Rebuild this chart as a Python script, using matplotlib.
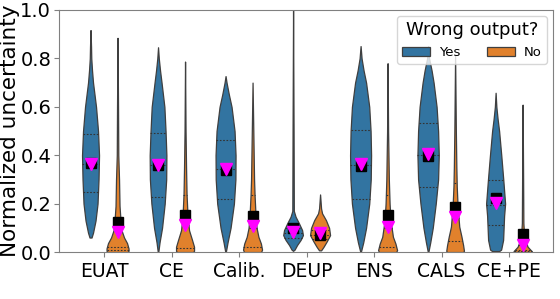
import numpy as np
import matplotlib.pyplot as plt
from matplotlib.patches import Patch

categories = ["EUAT", "CE", "Calib.", "DEUP", "ENS", "CALS", "CE+PE"]
groups = ["Yes", "No"]

# violin outlines: levels (normalized uncertainty) and relative width there
yes_levels = {
    "EUAT": [0.917, 0.85, 0.80, 0.75, 0.70, 0.65, 0.60, 0.50, 0.40, 0.30, 0.20, 0.13, 0.08, 0.06],
    "CE": [0.846, 0.80, 0.75, 0.70, 0.60, 0.50, 0.40, 0.30, 0.20, 0.10, 0.04, 0.0],
    "Calib.": [0.727, 0.70, 0.65, 0.60, 0.50, 0.40, 0.30, 0.20, 0.10, 0.04, 0.0],
    "DEUP": [1.0, 0.5, 0.17, 0.146, 0.119, 0.091, 0.07, 0.05, 0.029, 0.01, 0.005],
    "ENS": [0.851, 0.80, 0.75, 0.70, 0.60, 0.50, 0.40, 0.30, 0.20, 0.10, 0.04, 0.0],
    "CALS": [0.85, 0.80, 0.77, 0.75, 0.70, 0.60, 0.50, 0.40, 0.30, 0.20, 0.10, 0.04, 0.0],
    "CE+PE": [0.658, 0.60, 0.55, 0.50, 0.40, 0.30, 0.20, 0.15, 0.10, 0.05, 0.01, 0.004],
}
yes_density = {
    "EUAT": [0, 1, 1.5, 3, 5, 8, 11, 15, 17, 16, 14, 10, 5, 2],
    "CE": [0, 1.5, 4, 7, 12.7, 15, 16.7, 16.3, 13.3, 8, 3, 0.5],
    "Calib.": [0, 2, 6.7, 12, 18, 20, 19.7, 16.7, 10, 4, 0.5],
    "DEUP": [0, 1, 1.5, 5, 11.7, 18, 19.7, 15, 8, 3, 0],
    "ENS": [0, 2, 6, 11, 17.3, 20, 21, 20.3, 17.3, 11, 5.3, 0.5],
    "CALS": [0, 2, 5, 7, 11, 17, 20, 21.3, 20, 15.3, 9.3, 4.3, 0.5],
    "CE+PE": [0, 1.5, 4, 7, 11.3, 15.3, 19, 17, 16, 15, 11, 7],
}
no_levels = {
    "EUAT": [0.885, 0.60, 0.40, 0.30, 0.19, 0.13, 0.09, 0.06, 0.037, 0.015, 0.005, 0.0],
    "CE": [0.787, 0.5, 0.35, 0.24, 0.15, 0.09, 0.05, 0.022, 0.005, 0.0],
    "Calib.": [0.70, 0.5, 0.30, 0.236, 0.15, 0.10, 0.063, 0.035, 0.01, 0.0],
    "DEUP": [0.238, 0.18, 0.16, 0.132, 0.10, 0.07, 0.043, 0.021, 0.007],
    "ENS": [0.78, 0.5, 0.30, 0.20, 0.13, 0.063, 0.035, 0.008, 0.0],
    "CALS": [0.814, 0.5, 0.35, 0.27, 0.19, 0.105, 0.064, 0.029, 0.005, 0.0],
    "CE+PE": [0.609, 0.3, 0.12, 0.07, 0.05, 0.022, 0.004, 0.0],
}
no_density = {
    "EUAT": [0, 1, 1.5, 3, 4, 6, 8, 13, 19, 22, 22, 20],
    "CE": [0, 1, 2, 3, 5, 8, 14, 18, 18, 16],
    "Calib.": [0, 1.5, 3, 4, 6, 8, 11.7, 16.7, 19, 17],
    "DEUP": [0, 2, 4, 11.7, 18, 20, 13, 6.7, 2],
    "ENS": [0, 1, 2.5, 4, 6, 10.7, 15.7, 19, 17],
    "CALS": [0, 1.5, 2.5, 3.3, 5, 8.3, 12.7, 16, 17.7, 16],
    "CE+PE": [0, 1, 1.5, 3, 5, 10, 18, 18],
}

# quartiles (q1, median, q3)
yes_quartiles = [(0.248, 0.364, 0.488), (0.229, 0.358, 0.493), (0.219, 0.343, 0.463),
                 (0.06, 0.08, 0.10), (0.22, 0.358, 0.504), (0.27, 0.402, 0.532),
                 (0.11, 0.196, 0.297)]
no_quartiles = [(0.008, 0.022, 0.09), (0.015, 0.11, 0.235), (0.019, 0.10, 0.236),
                (0.054, 0.07, 0.09), (0.022, 0.10, 0.234), (0.047, 0.14, 0.284),
                (0.003, 0.01, 0.03)]

# black squares and magenta triangles
yes_square = [0.368, 0.358, 0.339, 0.10, 0.357, 0.395, 0.223]
no_square = [0.125, 0.153, 0.149, 0.07, 0.153, 0.187, 0.073]
yes_triangle = [0.365, 0.36, 0.345, 0.084, 0.362, 0.405, 0.201]
no_triangle = [0.083, 0.112, 0.107, 0.077, 0.105, 0.146, 0.029]

colors = {"Yes": "#3274a1", "No": "#e1812c"}
edge = "#3f3f3f"
scale = 1 / 67.5
offset = 0.2


def draw_violin(ax, x, levels, dens, quarts, color):
    levels = np.asarray(levels, dtype=float)
    half = np.asarray(dens, dtype=float) * scale / 2
    ax.fill_betweenx(levels, x - half, x + half, facecolor=color, edgecolor=edge,
                     linewidth=0.9, zorder=2)
    for q in quarts:
        h = np.interp(q, levels[::-1], half[::-1])
        ax.plot([x - h, x + h], [q, q], color="#333333", lw=0.8, ls=(0, (1.5, 1.5)), zorder=3)


fig, ax = plt.subplots(figsize=(5.6, 2.99), dpi=100)
fig.subplots_adjust(left=0.105, right=0.9875, bottom=0.157, top=0.9666)

xs = np.arange(len(categories))
for i, cat in enumerate(categories):
    draw_violin(ax, xs[i] - offset, yes_levels[cat], yes_density[cat], yes_quartiles[i], colors["Yes"])
    draw_violin(ax, xs[i] + offset, no_levels[cat], no_density[cat], no_quartiles[i], colors["No"])

ax.plot(xs - offset, yes_square, "s", color="black", ms=6.5, zorder=4)
ax.plot(xs + offset, no_square, "s", color="black", ms=6.5, zorder=4)
ax.plot(xs - offset, yes_triangle, "v", color="magenta", ms=8, zorder=5)
ax.plot(xs + offset, no_triangle, "v", color="magenta", ms=8, zorder=5)

ax.set_xlim(-0.67, 6.65)
ax.set_ylim(0, 1.0)
ax.set_xticks(xs)
ax.set_xticklabels(categories, fontsize=13.5)
ax.set_yticks([0, 0.2, 0.4, 0.6, 0.8, 1.0])
ax.tick_params(axis="y", labelsize=14, pad=2)
ax.tick_params(colors="gray", labelcolor="black")
ax.set_ylabel("Normalized uncertainty", fontsize=15.5, labelpad=0)
for s in ax.spines.values():
    s.set_color("gray")

handles = [Patch(facecolor=colors[g], edgecolor=edge, linewidth=0.9) for g in groups]
ax.legend(handles, groups, title="Wrong output?", ncol=2, loc="upper right",
          fontsize=9.5, title_fontsize=13, borderaxespad=0.45,
          handletextpad=0.7, columnspacing=2.0, handlelength=2.1)

fig.savefig("out.png", dpi=100)
